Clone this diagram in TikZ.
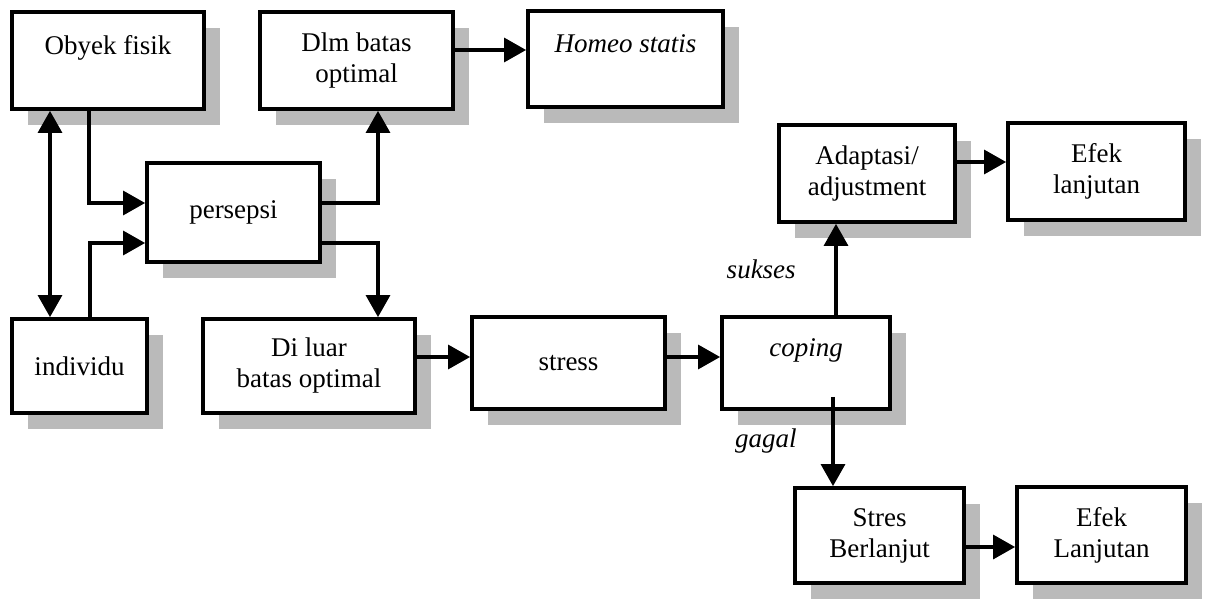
\documentclass[tikz,border=0pt]{standalone}
\usepackage{fontspec}
\setmainfont{Liberation Serif}
\usetikzlibrary{arrows.meta,shadows}
\begin{document}
\begin{tikzpicture}[x=0.5pt,y=-0.5pt,
  box/.style={draw,line width=1.9pt,fill=white,align=center,inner sep=2pt,
    font=\fontsize{13.5}{15.5}\selectfont,
    drop shadow={shadow xshift=8pt,shadow yshift=-8pt,fill=black!27,opacity=1}},
  arr/.style={line width=1.6pt,-{Triangle[length=11pt,width=12pt]}},
  dbl/.style={line width=1.6pt,{Triangle[length=11pt,width=12pt]}-{Triangle[length=11pt,width=12pt]}},
  lbl/.style={font=\fontsize{13.5}{15.5}\selectfont\itshape}]
\useasboundingbox (0,0) rectangle (1222,599);
\foreach \n/\xa/\ya/\xb/\yb/\t in {obyek/12/12/204/109/{Obyek fisik\\~},dlm/260/12/453/109/{Dlm batas\\optimal},homeo/528/11/723/107/{\itshape Homeo statis\\~},persepsi/147/163/320/262/{persepsi},individu/12/319/147/413/{individu},diluar/203/319/415/413/{Di luar\\batas optimal},stress/472/317/665/409/{stress},coping/722/317/890/409/{\itshape coping\\~},adapt/779/125/955/222/{Adaptasi/\\adjustment},efeka/1008/123/1185/220/{Efek\\lanjutan},stresb/795/488/964/583/{Stres\\Berlanjut},efekb/1017/487/1186/583/{Efek\\Lanjutan}} {
  \node[box,minimum width={(\xb-\xa)*0.5pt},minimum height={(\yb-\ya)*0.5pt}] (\n) at ({(\xa+\xb)/2},{(\ya+\yb)/2}) {\t};
}
\draw[dbl] (obyek.south -| 50,0) -- (individu.north -| 50,0);
\draw[arr] (obyek.south -| 89,0) |- (persepsi.west |- 0,203);
\draw[arr] (individu.north -| 90,0) |- (persepsi.west |- 0,243);
\draw[arr] (persepsi.east |- 0,203) -| (dlm.south -| 378,0);
\draw[arr] (persepsi.east |- 0,243) -| (diluar.north -| 378,0);
\draw[arr] (dlm.east |- 0,50) -- (homeo.west |- 0,50);
\draw[arr] (diluar.east |- 0,357) -- (stress.west |- 0,357);
\draw[arr] (stress.east |- 0,357) -- (coping.west |- 0,357);
\draw[arr] (coping.north -| 836,0) -- node[lbl,left=16pt] {sukses} (adapt.south -| 836,0);
\draw[arr] ([yshift=7pt]coping.south -| 833,0) -- node[lbl,left=14pt] {gagal} (stresb.north -| 833,0);
\draw[arr] (adapt.east |- 0,162) -- (efeka.west |- 0,162);
\draw[arr] (stresb.east |- 0,547) -- (efekb.west |- 0,547);
\end{tikzpicture}
\end{document}
